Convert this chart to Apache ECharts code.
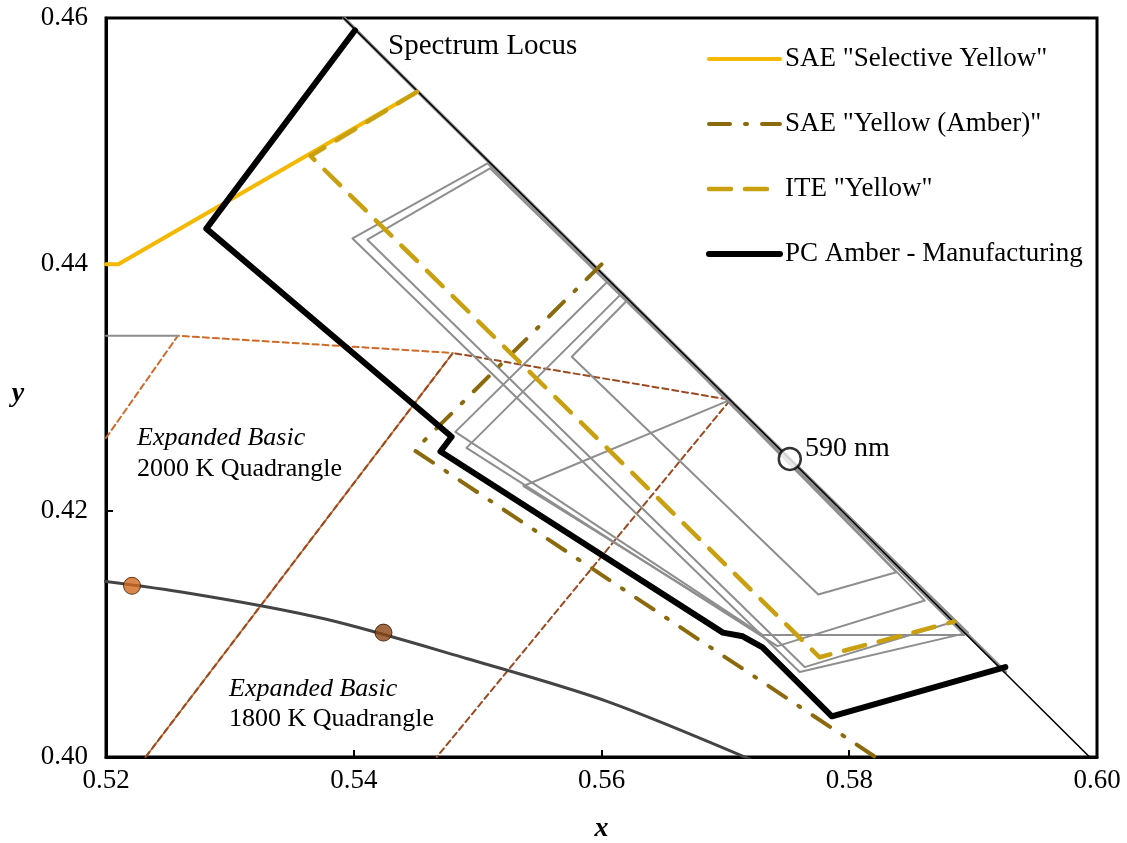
<!DOCTYPE html>
<html>
<head>
<meta charset="utf-8">
<script src="https://cdn.jsdelivr.net/npm/echarts@6/dist/echarts.min.js"></script>
<style>html,body{margin:0;padding:0;background:#fff}#c{width:1127px;height:843px}</style>
</head>
<body>
<div id="c"></div>
<script>
// ---- axis ticks ----
const xTicks = [0.52, 0.54, 0.56, 0.58, 0.60];
const yTicks = [0.40, 0.42, 0.44, 0.46];

// ---- boundaries (CIE 1931 x, y) ----
const spectrumLocus = [[0.5125,0.4866],[0.5448,0.4544],[0.5752,0.4242],[0.6029,0.3965]];
const grayLocusBand = [[0.5392,0.4600],[0.5448,0.4544],[0.5752,0.4242],[0.5926,0.4069]];
const selectiveYellow = [[0.5200,0.4400],[0.5210,0.4400],[0.5451,0.4540]];
const saeAmber = [[0.5600,0.4400],[0.5449,0.4249],[0.5821,0.4000]];
const iteYellow = [[0.5451,0.4540],[0.5365,0.4488],[0.5776,0.4081],[0.5885,0.4110]];
const pcAmber = [[0.5401,0.4590],[0.5281,0.4429],[0.5479,0.4260],[0.5470,0.4248],
                 [0.5698,0.4101],[0.5714,0.4098],[0.5730,0.4089],[0.5786,0.4033],[0.5926,0.4073]];

// gray bin quadrangles
const grayQ1 = [[0.5508,0.4482],[0.5399,0.4421],[0.5760,0.4069],[0.5896,0.4101],[0.5508,0.4482]];
const grayQ2 = [[0.5510,0.4478],[0.5411,0.4420],[0.5764,0.4073],[0.5885,0.4110],[0.5510,0.4478]];
const grayQ3 = [[0.5605,0.4386],[0.5482,0.4264],[0.5730,0.4099],[0.5893,0.4099],[0.5605,0.4386]];
const grayQ4 = [[0.5617,0.4377],[0.5491,0.4251],[0.5742,0.4090],[0.5861,0.4127],[0.5617,0.4377]];
const grayQ5 = [[0.5621,0.4371],[0.5576,0.4325],[0.5775,0.4132],[0.5838,0.4150],[0.5621,0.4371]];
const grayQ6 = [[0.5704,0.4290],[0.5537,0.4220],[0.5730,0.4099]];
const grayEdge = [[0.5200,0.4342],[0.5258,0.4342]];

// expanded basic quadrangles
const quad2000 = [[0.5200,0.4259],[0.5258,0.4342],[0.5480,0.4328],[0.5232,0.4000]];
const quad1800 = [[0.5232,0.4000],[0.5480,0.4328],[0.5704,0.4290],[0.5467,0.4000]];

// Planckian locus and nominal points
const planckian = [[0.5164,0.4147],[0.5267,0.4133],[0.5377,0.4112],[0.5491,0.4080],[0.5605,0.4045],[0.5732,0.3993]];
const nominal2000 = [[0.5221,0.4139]];
const nominal1800 = [[0.5424,0.4101]];
const nm590 = [[0.5752,0.4242]];

const legendNames = ['SAE "Selective Yellow"','SAE "Yellow (Amber)"','ITE "Yellow"','PC Amber - Manufacturing'];

const FONT = 'Liberation Serif';
const chart = echarts.init(document.getElementById('c'), null, {renderer:'canvas'});

function line(name, data, color, width, type, z, extra) {
  return Object.assign({
    name: name, type: 'line', data: data, symbol: 'none', showSymbol: false,
    lineStyle: {color: color, width: width, type: type || 'solid', cap: 'round', join: 'round'},
    itemStyle: {color: color}, z: z, silent: true, animation: false
  }, extra || {});
}
const GRAY = '#8E8E8E';

const option = {
  animation: false,
  backgroundColor: '#fff',
  grid: {left: 106, right: 30, top: 18, bottom: 86, show: true, borderColor: '#000', borderWidth: 3,
         containLabel: false, outerBoundsMode: 'none'},
  xAxis: {
    type: 'value', min: xTicks[0], max: xTicks[xTicks.length-1], interval: 0.02,
    name: 'x', nameLocation: 'middle', nameGap: 58,
    nameTextStyle: {fontFamily: FONT, fontSize: 28, fontStyle: 'italic', fontWeight: 'bold', color: '#000'},
    axisLine: {lineStyle: {color: '#000', width: 3}},
    axisTick: {inside: true, length: 7, lineStyle: {color: '#000', width: 2}},
    axisLabel: {fontFamily: FONT, fontSize: 27, color: '#000', margin: 10, formatter: v => v.toFixed(2)},
    splitLine: {show: false}
  },
  yAxis: {
    type: 'value', min: yTicks[0], max: yTicks[yTicks.length-1], interval: 0.02,
    axisLine: {lineStyle: {color: '#000', width: 3}},
    axisTick: {inside: true, length: 7, lineStyle: {color: '#000', width: 2}},
    axisLabel: {fontFamily: FONT, fontSize: 27, color: '#000', margin: 18, formatter: v => v.toFixed(2)},
    splitLine: {show: false}
  },
  legend: {
    data: legendNames, orient: 'vertical', left: 701, top: 39,
    itemWidth: 71, itemHeight: 14, itemGap: 35,
    textStyle: {fontFamily: FONT, fontSize: 27, color: '#000', lineHeight: 30},
    itemStyle: {color: 'rgba(0,0,0,0)', borderColor: 'rgba(0,0,0,0)', borderWidth: 0, opacity: 0},
    lineStyle: {width: 'inherit', type: 'inherit', cap: 'inherit', color: 'inherit'},
    selectedMode: false
  },
  series: [
    line('q2000', quad2000, '#D06A28', 2, [6,4], 1),
    line('q1800', quad1800, '#9A4A20', 2, [6,4], 1),
    line('planck', planckian, '#444444', 3, 'solid', 2, {smooth: 0.3}),
    line('gband', grayLocusBand, GRAY, 3.5, 'solid', 3),
    line('g0', grayEdge, GRAY, 2, 'solid', 3),
    line('g1', grayQ1, GRAY, 2, 'solid', 3),
    line('g2', grayQ2, GRAY, 2, 'solid', 3),
    line('g3', grayQ3, GRAY, 2, 'solid', 3),
    line('g4', grayQ4, GRAY, 2, 'solid', 3),
    line('g5', grayQ5, GRAY, 2, 'solid', 3),
    line('g6', grayQ6, GRAY, 2, 'solid', 3),
    line('locus', spectrumLocus, '#000', 1.5, 'solid', 4),
    line(legendNames[0], selectiveYellow, '#F5B800', 4, 'solid', 5),
    line(legendNames[1], saeAmber, '#8B6A0E', 4, [21,15,2,15], 6),
    line(legendNames[2], iteYellow, '#C9A010', 4.5, [22,14], 7),
    line(legendNames[3], pcAmber, '#000', 6, 'solid', 8),
    {type: 'scatter', data: nominal2000, symbolSize: 17, z: 9, silent: true,
     itemStyle: {color: '#D2691E', borderColor: '#3a1a00', borderWidth: 1}},
    {type: 'scatter', data: nominal1800, symbolSize: 17, z: 9, silent: true,
     itemStyle: {color: '#8B4513', borderColor: '#2a1000', borderWidth: 1}},
    {type: 'scatter', data: nm590, symbolSize: 22, z: 10, silent: true,
     itemStyle: {color: '#fff', borderColor: '#000', borderWidth: 2.5}}
  ],
  graphic: [
    {type: 'text', x: 18, y: 394, z: 20, style: {text: 'y', fontFamily: FONT, fontSize: 28, fontStyle: 'italic', fontWeight: 'bold', fill: '#000', align: 'center', verticalAlign: 'middle'}},
    {type: 'text', x: 388, y: 46, z: 20, style: {text: 'Spectrum Locus', fontFamily: FONT, fontSize: 29, fill: '#000', verticalAlign: 'middle'}},
    {type: 'text', x: 805, y: 449, z: 20, style: {text: '590 nm', fontFamily: FONT, fontSize: 28, fill: '#000', verticalAlign: 'middle'}},
    {type: 'text', x: 137, y: 438, z: 20, style: {text: 'Expanded Basic', fontFamily: FONT, fontSize: 26, fontStyle: 'italic', fill: '#000', verticalAlign: 'middle'}},
    {type: 'text', x: 137, y: 469, z: 20, style: {text: '2000 K Quadrangle', fontFamily: FONT, fontSize: 26, fill: '#000', verticalAlign: 'middle'}},
    {type: 'text', x: 229, y: 689, z: 20, style: {text: 'Expanded Basic', fontFamily: FONT, fontSize: 26, fontStyle: 'italic', fill: '#000', verticalAlign: 'middle'}},
    {type: 'text', x: 229, y: 719, z: 20, style: {text: '1800 K Quadrangle', fontFamily: FONT, fontSize: 26, fill: '#000', verticalAlign: 'middle'}}
  ]
};
chart.setOption(option);
</script>
</body>
</html>
